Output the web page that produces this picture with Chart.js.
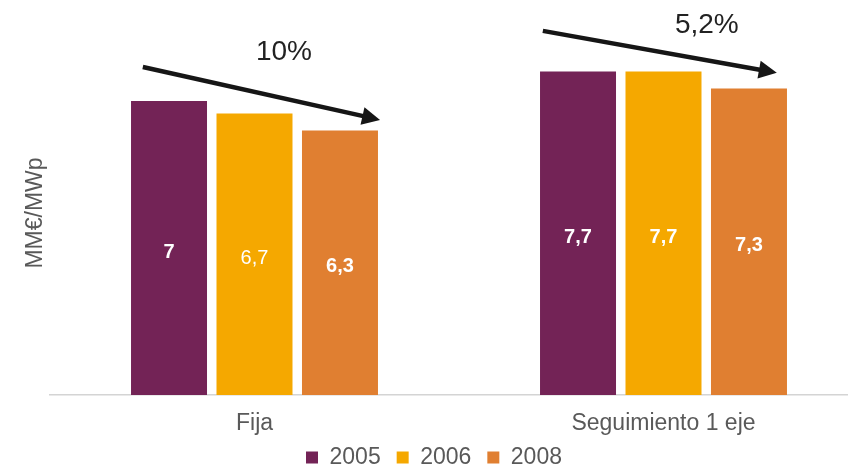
<!DOCTYPE html>
<html>
<head>
<meta charset="utf-8">
<script src="https://cdn.jsdelivr.net/npm/chart.js@4"></script>
<style>
  html, body { margin: 0; padding: 0; overflow: hidden; background: #fff; }
  #wrap { position: relative; width: 868px; height: 470px; }
</style>
</head>
<body>
<div id="wrap"><canvas id="c"></canvas></div>
<script>
// Investment cost per installed MWp, by mounting type and year
const categories = ['Fija', 'Seguimiento 1 eje'];
const years = ['2005', '2006', '2008'];
const values2005 = [7, 7.7];
const values2006 = [6.7, 7.7];
const values2008 = [6.3, 7.3];
const reductionLabels = ['10%', '5,2%'];
const axisTitle = 'MM€/MWp';

const FONT = "'Liberation Sans', Arial, Helvetica, sans-serif";
const TEXT_GREY = '#595959';
const seriesColors = ['#732356', '#F5A800', '#E07F31'];
const seriesValues = [values2005, values2006, values2008];
// value labels: the 2006 "Fija" label is set in regular weight
const labelWeights = [['bold', 'bold'], ['normal', 'bold'], ['bold', 'bold']];

const fmt = v => String(v).replace('.', ',');

// Let the legend box reach up under the category labels (keeps its bottom edge)
const legendLift = {
  id: 'legendLift',
  afterLayout(chart, args, opts) {
    const lg = chart.legend;
    if (lg) { lg.top = lg.bottom - opts.boxHeight; lg.height = opts.boxHeight; }
  }
};

// Value labels inside bars, y-axis title and trend arrows
const overlay = {
  id: 'overlay',
  afterDatasetsDraw(chart, args, opts) {
    const ctx = chart.ctx;
    const xs = chart.scales.x, ys = chart.scales.y;
    ctx.save();
    // value labels
    ctx.fillStyle = '#ffffff';
    ctx.textAlign = 'center';
    ctx.textBaseline = 'middle';
    chart.data.datasets.forEach((ds, di) => {
      const meta = chart.getDatasetMeta(di);
      meta.data.forEach((bar, i) => {
        ctx.font = labelWeights[di][i] + ' 20px ' + FONT;
        ctx.fillText(fmt(ds.data[i]), bar.x, (bar.y + bar.base) / 2 + 4);
      });
    });
    // axis title
    ctx.fillStyle = TEXT_GREY;
    ctx.font = '23px ' + FONT;
    ctx.translate(36, 213);
    ctx.rotate(-Math.PI / 2);
    ctx.fillText(axisTitle, 0, 0);
    ctx.setTransform(1, 0, 0, 1, 0, 0);
    // trend arrows (positions in category-index / value units)
    const px = i => xs.getPixelForValue(0) + i * (xs.getPixelForValue(1) - xs.getPixelForValue(0));
    opts.arrows.forEach((a, k) => {
      const x1 = px(a.from[0]), y1 = ys.getPixelForValue(a.from[1]);
      const x2 = px(a.to[0]), y2 = ys.getPixelForValue(a.to[1]);
      const ang = Math.atan2(y2 - y1, x2 - x1);
      const head = 18, half = 9;
      const bx = x2 - head * Math.cos(ang), by = y2 - head * Math.sin(ang);
      ctx.strokeStyle = '#161616';
      ctx.fillStyle = '#161616';
      ctx.lineWidth = 4.5;
      ctx.lineCap = 'butt';
      ctx.beginPath();
      ctx.moveTo(x1, y1);
      ctx.lineTo(bx + 2 * Math.cos(ang), by + 2 * Math.sin(ang));
      ctx.stroke();
      ctx.beginPath();
      ctx.moveTo(x2, y2);
      ctx.lineTo(bx - half * Math.sin(ang), by + half * Math.cos(ang));
      ctx.lineTo(bx + half * Math.sin(ang), by - half * Math.cos(ang));
      ctx.closePath();
      ctx.fill();
      ctx.fillStyle = '#222222';
      ctx.font = '28px ' + FONT;
      ctx.textAlign = 'center';
      ctx.textBaseline = 'middle';
      ctx.fillText(reductionLabels[k], px(a.text[0]), ys.getPixelForValue(a.text[1]));
    });
    ctx.restore();
  }
};

new Chart(document.getElementById('c'), {
  type: 'bar',
  data: {
    labels: categories,
    datasets: years.map((y, i) => ({
      label: y,
      data: seriesValues[i],
      backgroundColor: seriesColors[i],
      borderWidth: 0,
      categoryPercentage: 0.627,
      barPercentage: 0.889
    }))
  },
  options: {
    responsive: true,
    maintainAspectRatio: false,
    animation: false,
    devicePixelRatio: 1,
    layout: { padding: { top: 17, left: 0, right: 0, bottom: 0 } },
    scales: {
      x: {
        grid: { display: false, drawTicks: false },
        border: { display: true, color: '#d4d4d4', width: 1.5 },
        ticks: { color: TEXT_GREY, font: { family: FONT, size: 23, lineHeight: 1.2 }, padding: 15 }
      },
      y: {
        display: true, min: 0, max: 9,
        grid: { display: false, drawTicks: false },
        border: { display: false },
        ticks: { display: false },
        afterFit: s => { s.width = 50; }
      }
    },
    plugins: {
      legend: {
        position: 'bottom',
        maxHeight: 17.4,
        labels: {
          boxWidth: 12, boxHeight: 12, padding: 16,
          color: TEXT_GREY, font: { family: FONT, size: 23 }
        }
      },
      legendLift: { boxHeight: 40 },
      tooltip: { enabled: false },
      overlay: {
        arrows: [
          { from: [-0.273, 7.81], to: [0.307, 6.55], text: [0.072, 8.17] },
          { from: [0.705, 8.67], to: [1.277, 7.67], text: [1.106, 8.81] }
        ]
      }
    }
  },
  plugins: [legendLift, overlay]
});
</script>
</body>
</html>
